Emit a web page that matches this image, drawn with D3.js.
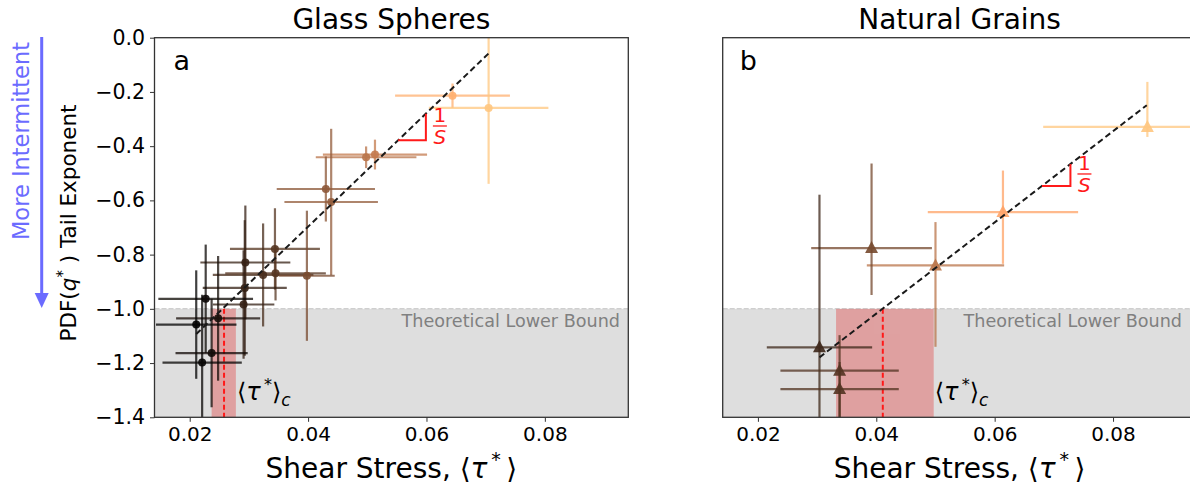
<!DOCTYPE html>
<html><head><meta charset="utf-8">
<script src="https://cdn.jsdelivr.net/npm/d3@7"></script>
<style>body{margin:0;background:#fff}svg{font-family:"DejaVu Sans",sans-serif}</style>
</head><body><svg id="c" width="1190" height="489"></svg>
<script>
// ---- data ----
const xTicks = [0.02, 0.04, 0.06, 0.08];
const yTicks = [0, -0.2, -0.4, -0.6, -0.8, -1.0, -1.2, -1.4];
const titles = ["Glass Spheres", "Natural Grains"];
const panelLetters = ["a", "b"];

// Glass spheres: mean shear stress, tail exponent, errors
const glassX    = [0.0644, 0.0705, 0.0498, 0.0513, 0.0430, 0.0439, 0.0344, 0.0294, 0.0324, 0.0345, 0.0398, 0.0293, 0.0291, 0.0227, 0.0248, 0.0211, 0.0237, 0.0221];
const glassY    = [-0.214, -0.259, -0.441, -0.431, -0.558, -0.606, -0.779, -0.829, -0.875, -0.869, -0.878, -0.923, -0.984, -0.963, -1.035, -1.058, -1.163, -1.198];
const glassXErr = [0.0097, 0.0101, 0.0085, 0.0088, 0.0083, 0.0079, 0.0076, 0.0076, 0.0085, 0.0085, 0.0047, 0.0071, 0.0052, 0.0080, 0.0071, 0.0068, 0.0061, 0.0067];
const glassYErr = [0.045, 0.28, 0.04, 0.055, 0.12, 0.27, 0.15, 0.21, 0.19, 0.10, 0.24, 0.25, 0.20, 0.20, 0.23, 0.20, 0.20, 0.25];

// Natural grains
const grainX      = [0.0858, 0.0614, 0.0500, 0.0392, 0.0304, 0.0338, 0.0338];
const grainY      = [-0.329, -0.643, -0.840, -0.776, -1.142, -1.228, -1.296];
const grainXErr   = [0.0176, 0.0127, 0.0116, 0.0102, 0.0089, 0.0100, 0.0100];
const grainYErrLo = [0.037, 0.191, 0.30, 0.173, 0.30, 0.20, 0.20];
const grainYErrHi = [0.166, 0.153, 0.16, 0.312, 0.563, 0.131, 0.10];

// fitted power-law lines (end points)
const glassFitX = [0.0211, 0.0705], glassFitY = [-1.093, -0.058];
const grainFitX = [0.0304, 0.0857], grainFitY = [-1.179, -0.249];
// slope-triangle x extents
const glassSlopeX = [0.0552, 0.0599];
const grainSlopeX = [0.0680, 0.0728];
// critical shear stress: [low, mean, high]
const glassCrit = [0.0237, 0.0258, 0.0278];
const grainCrit = [0.0332, 0.0411, 0.0497];
const lowerBound = -1.0;
const colorDomain = [0.0211, 0.0705];

// ---- drawing ----
const svg = d3.select("#c");
const yTop = 37.7, yBot = 417.3;
const panels = [
  {x0: 154.5, x1: 628.3, X: glassX, Y: glassY, XE: glassXErr, YLo: glassYErr, YHi: glassYErr, fitX: glassFitX, fitY: glassFitY, slopeX: glassSlopeX, crit: glassCrit, marker: "circle", boundRight: 620},
  {x0: 722.7, x1: 1196.5, X: grainX, Y: grainY, XE: grainXErr, YLo: grainYErrLo, YHi: grainYErrHi, fitX: grainFitX, fitY: grainFitY, slopeX: grainSlopeX, crit: grainCrit, marker: "triangle", boundRight: 1182}
];
const y = d3.scaleLinear().domain([-1.4, 0]).range([yBot, yTop]);
const copper = t => { t = Math.max(0, Math.min(1, t)); return d3.rgb(Math.min(1, 1.25 * t) * 255, 0.7812 * t * 255, 0.4975 * t * 255); };
const cnorm = d3.scaleLinear().domain(colorDomain).clamp(true);

panels.forEach((p, i) => {
  const x = d3.scaleLinear().domain([0.01405, 0.0941]).range([p.x0, p.x1]);
  const g = svg.append("g");
  const cid = "clip" + i;
  svg.append("defs").append("clipPath").attr("id", cid).append("rect")
    .attr("x", p.x0).attr("y", yTop).attr("width", p.x1 - p.x0).attr("height", yBot - yTop);
  const pg = g.append("g").attr("clip-path", `url(#${cid})`);

  // gray region below lower bound
  pg.append("rect").attr("x", p.x0).attr("width", p.x1 - p.x0)
    .attr("y", y(lowerBound)).attr("height", y(-1.4) - y(lowerBound)).attr("fill", "#dedede");
  pg.append("line").attr("x1", p.x0).attr("x2", p.x1).attr("y1", y(lowerBound)).attr("y2", y(lowerBound))
    .attr("stroke", "#cfcfcf").attr("stroke-width", 1.5).attr("stroke-dasharray", "5,2");
  pg.append("text").attr("x", p.boundRight).attr("y", 327).attr("text-anchor", "end")
    .attr("font-size", 17.6).attr("fill", "#808080").text("Theoretical Lower Bound");

  // critical shear stress band
  pg.append("rect").attr("x", x(p.crit[0])).attr("width", x(p.crit[2]) - x(p.crit[0]))
    .attr("y", y(lowerBound)).attr("height", y(-1.4) - y(lowerBound)).attr("fill", "rgba(225,20,20,0.3)");
  pg.append("line").attr("x1", x(p.crit[1])).attr("x2", x(p.crit[1])).attr("y1", y(lowerBound)).attr("y2", y(-1.4))
    .attr("stroke", "#ff1a1a").attr("stroke-width", 2).attr("stroke-dasharray", "5,3");

  // error bars + markers
  const data = p.X.map((v, k) => ({x: v, y: p.Y[k], xe: p.XE[k], lo: p.YLo[k], hi: p.YHi[k]}));
  data.forEach(d => {
    const c = copper(cnorm(d.x));
    const eg = pg.append("g").attr("opacity", 0.75);
    eg.append("line").attr("x1", x(d.x - d.xe)).attr("x2", x(d.x + d.xe)).attr("y1", y(d.y)).attr("y2", y(d.y))
      .attr("stroke", c).attr("stroke-width", 2.2);
    eg.append("line").attr("x1", x(d.x)).attr("x2", x(d.x)).attr("y1", y(d.y - d.lo)).attr("y2", y(d.y + d.hi))
      .attr("stroke", c).attr("stroke-width", 2.2);
  });
  data.forEach(d => {
    const c = copper(cnorm(d.x));
    if (p.marker === "circle") {
      pg.append("circle").attr("cx", x(d.x)).attr("cy", y(d.y)).attr("r", 4).attr("fill", c).attr("opacity", 0.9);
    } else {
      const cx = x(d.x), cy = y(d.y);
      pg.append("path").attr("d", `M${cx},${cy - 7}L${cx + 6.5},${cy + 5}L${cx - 6.5},${cy + 5}Z`).attr("fill", c).attr("opacity", 0.9);
    }
  });

  // fit line
  const line = d3.line().x(d => x(d[0])).y(d => y(d[1]));
  pg.append("path").attr("d", line(p.fitX.map((v, k) => [v, p.fitY[k]])))
    .attr("fill", "none").attr("stroke", "#1a1a1a").attr("stroke-width", 2).attr("stroke-dasharray", "6,3.5");

  // slope triangle
  const slope = (p.fitY[1] - p.fitY[0]) / (p.fitX[1] - p.fitX[0]);
  const fy = xv => p.fitY[0] + slope * (xv - p.fitX[0]);
  const sx0 = p.slopeX[0], sx1 = p.slopeX[1];
  g.append("path").attr("d", `M${x(sx0)},${y(fy(sx0))}L${x(sx1)},${y(fy(sx0))}L${x(sx1)},${y(fy(sx1))}`)
    .attr("fill", "none").attr("stroke", "#ff1a1a").attr("stroke-width", 2);
  const fx = x(sx1) + 14, fmid = (y(fy(sx0)) + y(fy(sx1))) / 2 - 1;
  g.append("text").attr("x", fx).attr("y", fmid - 4).attr("text-anchor", "middle").attr("font-size", 20).attr("fill", "#ff1a1a").text("1");
  g.append("line").attr("x1", fx - 7).attr("x2", fx + 7).attr("y1", fmid).attr("y2", fmid).attr("stroke", "#ff1a1a").attr("stroke-width", 1.3);
  g.append("text").attr("x", fx).attr("y", fmid + 18).attr("text-anchor", "middle").attr("font-size", 20)
    .attr("font-style", "italic").attr("fill", "#ff1a1a").text("S");

  // critical label
  const tl = g.append("text").attr("x", x(p.crit[2]) + 1).attr("y", 400).attr("font-size", 24).attr("fill", "#000");
  tl.append("tspan").text("⟨");
  tl.append("tspan").attr("font-style", "italic").text("τ");
  tl.append("tspan").attr("dy", -10).attr("font-size", 16).text("\u2009*");
  tl.append("tspan").attr("dy", 10).text("⟩");
  tl.append("tspan").attr("dy", 6).attr("font-size", 17).attr("font-style", "italic").text("c");

  // frame
  g.append("rect").attr("x", p.x0).attr("y", yTop).attr("width", p.x1 - p.x0).attr("height", yBot - yTop)
    .attr("fill", "none").attr("stroke", "#333").attr("stroke-width", 1.3);

  // x axis
  const xa = g.append("g").attr("transform", `translate(0,${yBot})`)
    .call(d3.axisBottom(x).tickValues(xTicks).tickFormat(d3.format(".2f")).tickSize(4.5).tickPadding(5));
  xa.select(".domain").remove();
  xa.selectAll("line").attr("stroke", "#333").attr("stroke-width", 1);
  xa.selectAll("text").attr("font-size", 20).attr("font-family", "DejaVu Sans").attr("fill", "#000");

  if (i === 0) {
    const ya = g.append("g").attr("transform", `translate(${p.x0},0)`)
      .call(d3.axisLeft(y).tickValues(yTicks).tickFormat(d3.format(".1f")).tickSize(4.5).tickPadding(5));
    ya.select(".domain").remove();
    ya.selectAll("line").attr("stroke", "#333").attr("stroke-width", 1);
    ya.selectAll("text").attr("font-size", 20.5).attr("font-family", "DejaVu Sans").attr("fill", "#000");
  }

  // panel letter, title, x label
  const cx = (p.x0 + p.x1) / 2;
  g.append("text").attr("x", p.x0 + (i === 0 ? 19 : 17)).attr("y", 70).attr("font-size", 27).text(panelLetters[i]);
  g.append("text").attr("x", cx).attr("y", 29).attr("text-anchor", "middle").attr("font-size", 28).text(titles[i]);
  const xl = g.append("text").attr("x", cx).attr("y", 478).attr("text-anchor", "middle").attr("font-size", 28);
  xl.append("tspan").text("Shear Stress, ⟨");
  xl.append("tspan").attr("font-style", "italic").text("τ");
  xl.append("tspan").attr("dy", -12).attr("font-size", 19).text("\u2009*");
  xl.append("tspan").attr("dy", 12).text("\u2009⟩");
});

// y label
const yl = svg.append("text").attr("transform", "translate(76,223) rotate(-90)").attr("text-anchor", "middle").attr("font-size", 21.5);
yl.append("tspan").text("PDF(");
yl.append("tspan").attr("font-style", "italic").text("q");
yl.append("tspan").attr("dy", -8).attr("font-size", 15).text("*");
yl.append("tspan").attr("dy", 8).text(" ) Tail Exponent");

// "More Intermittent" arrow
const blue = "#6b6bff";
svg.append("text").attr("transform", "translate(29,141) rotate(-90)").attr("text-anchor", "middle")
  .attr("font-size", 22.5).attr("fill", blue).text("More Intermittent");
svg.append("line").attr("x1", 41.7).attr("x2", 41.7).attr("y1", 37).attr("y2", 295).attr("stroke", blue).attr("stroke-width", 3);
svg.append("path").attr("d", "M34.7,293L48.7,293L41.7,308Z").attr("fill", blue);
</script></body></html>
